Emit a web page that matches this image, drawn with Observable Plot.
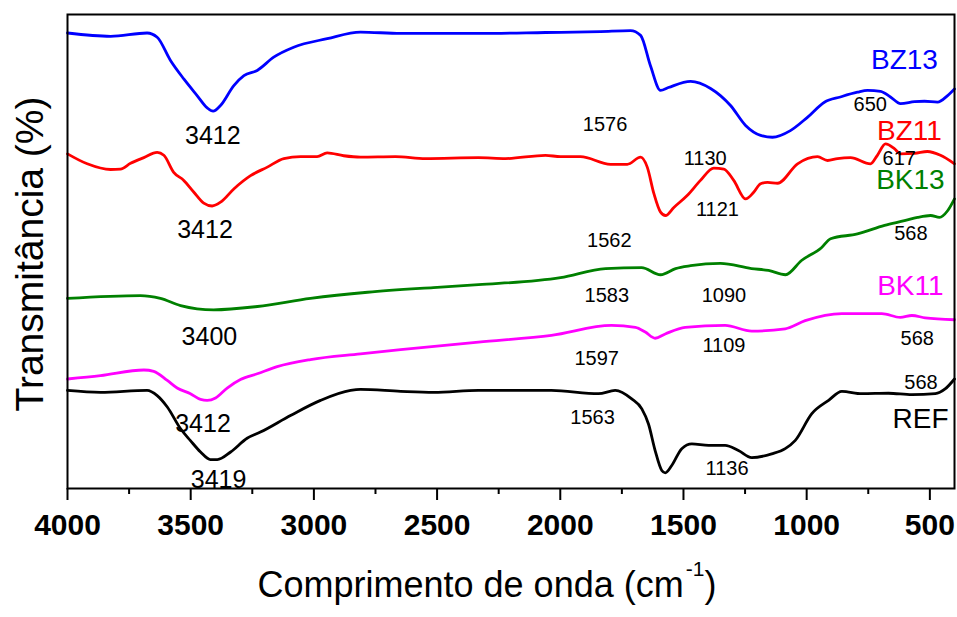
<!DOCTYPE html>
<html>
<head>
<meta charset="utf-8">
<script src="https://cdn.jsdelivr.net/npm/d3@7"></script>
<script src="https://cdn.jsdelivr.net/npm/@observablehq/plot@0.6"></script>
<style>
  html, body { margin: 0; padding: 0; background: #fff; }
  #chart svg { display: block; }
</style>
</head>
<body>
<div id="chart"></div>
<script>
// ---- axis ticks ----
const xTicks = [4000, 3500, 3000, 2500, 2000, 1500, 1000, 500];
const xMinorTicks = [3750, 3250, 2750, 2250, 1750, 1250, 750];
const xLabelMain = "Comprimento de onda (cm";
const xLabelSup = "-1";
const xLabelEnd = ")";
const yLabel = "Transmitância (%)";

// ---- series (wavenumber cm-1, transmittance in arbitrary offset units) ----
const bz13Wn = [4000,3825,3677,3636,3582,3528,3474,3433,3409,3379,3325,3284,3230,3163,3082,2946,2811,2648,2324,2060,1837,1715,1674,1634,1593,1561,1471,1390,1309,1248,1187,1139,1066,997,928,863,794,753,700,660,619,562,522,469,428,400];
const bz13T  = [96.1,95.4,96.1,95.2,90.3,86.4,82.9,80.3,79.6,80.8,85.0,87.1,88.2,91.0,93.1,94.9,96.3,96.0,96.0,96.2,96.4,96.6,95.6,89.2,84.0,84.6,85.9,84.4,80.8,76.6,74.5,74.1,75.5,78.3,81.5,82.6,83.6,84.0,83.8,82.6,81.2,81.6,81.7,81.5,82.9,84.3];

const bz11Wn = [4000,3920,3825,3785,3744,3690,3636,3609,3569,3528,3487,3447,3413,3379,3325,3257,3189,3122,3054,2987,2946,2879,2811,2669,2547,2332,2222,2060,1999,1918,1796,1728,1674,1647,1620,1593,1573,1539,1485,1431,1377,1336,1296,1248,1215,1187,1159,1118,1037,956,915,875,822,741,713,680,644,619,562,510,457,400];
const bz11T  = [70.6,68.5,67.3,67.4,68.6,69.8,70.9,70.3,66.7,65.0,62.5,60.2,59.6,60.4,63.2,66.0,67.8,69.6,70.0,70.0,70.8,70.2,69.9,70.0,69.6,69.8,69.6,70.3,70.0,70.0,68.4,68.4,69.9,67.8,62.2,58.3,57.6,59.3,61.8,65.0,67.6,67.4,65.0,61.1,62.5,64.3,64.6,64.4,68.5,70.0,69.2,69.6,69.8,68.5,70.3,72.7,71.7,70.6,70.7,71.1,70.3,68.5];

const bk13Wn = [4000,3704,3623,3541,3407,3229,3014,2782,2515,2332,1999,1816,1670,1593,1532,1471,1350,1224,1155,1086,1021,940,903,794,684,603,550,497,461,428,400];
const bk13T  = [40.1,40.7,40.1,38.6,37.7,38.4,40.1,41.4,42.4,43.0,44.5,46.4,46.6,45.1,46.4,47.0,47.5,46.4,46.0,45.1,48.1,50.8,52.7,53.7,55.5,56.5,57.2,57.6,57.2,58.6,61.1];

const bk11Wn = [4000,3866,3690,3650,3595,3555,3501,3460,3433,3399,3352,3298,3230,3149,3014,2811,2648,2332,2036,1792,1695,1655,1615,1574,1493,1331,1223,1087,1006,857,695,620,573,519,400];
const bk11T  = [23.1,23.8,25.0,24.7,22.8,21.2,20.0,18.8,18.6,19.1,21.2,23.0,24.2,25.7,27.2,28.4,29.3,30.9,32.3,34.4,34.0,33.0,31.7,32.6,34.0,34.4,33.2,33.7,35.4,36.9,36.9,36.1,36.5,36.0,35.6];

const refWn = [4000,3866,3677,3636,3595,3541,3501,3460,3420,3392,3338,3271,3217,3095,2973,2851,2811,2648,2513,2332,2036,1845,1777,1710,1669,1642,1615,1588,1574,1547,1507,1466,1398,1331,1277,1223,1142,1087,1047,979,911,857,776,668,573,478,438,400];
const refT  = [20.7,20.3,20.7,19.6,17.2,12.6,10.1,7.7,6.1,6.1,7.7,10.6,11.9,15.4,18.6,20.7,20.9,20.5,20.3,20.7,20.7,20.0,20.7,18.9,16.8,13.6,8.0,3.8,3.3,4.9,8.4,9.4,9.1,9.1,8.0,6.5,7.3,8.4,10.1,15.8,18.6,20.5,20.0,20.1,19.8,20.0,21.0,23.1];

const seriesNames  = ["BZ13", "BZ11", "BK13", "BK11", "REF"];
const seriesColors = ["#0000ff", "#ff0000", "#008000", "#ff00ff", "#000000"];
const seriesWn = [bz13Wn, bz11Wn, bk13Wn, bk11Wn, refWn];
const seriesT  = [bz13T, bz11T, bk13T, bk11T, refT];
const seriesLabelWn = [603, 583, 579, 579, 538];
const seriesLabelT  = [90.3, 75.5, 65.0, 42.7, 14.6];

// ---- peak annotations ----
const ohPeakText = ["3412", "3412", "3400", "3412", "3419"];
const ohPeakWn   = [3410, 3442, 3424, 3450, 3387];
const ohPeakT    = [74.4, 54.5, 32.0, 13.7, 1.7];

const peakText = ["1576","1130","1121","650","617","1562","568","1583","1090","1597","1109","568","568","1563","1136"];
const peakWn   = [1818, 1412, 1362, 742, 624, 1801, 577, 1811, 1336, 1852, 1336, 551, 536, 1869, 1323];
const peakT    = [76.7, 69.6, 58.8, 80.9, 69.7, 52.3, 53.8, 40.8, 40.8, 27.4, 30.1, 31.6, 22.4, 15.0, 4.2];

// ---- build tables ----
const lineData = seriesNames.flatMap((name, s) =>
  seriesWn[s].map((wn, i) => ({series: name, wn, t: seriesT[s][i]})));
const seriesLabels = seriesNames.map((name, s) => ({name, wn: seriesLabelWn[s], t: seriesLabelT[s]}));
const ohPeaks = ohPeakText.map((text, i) => ({text, wn: ohPeakWn[i], t: ohPeakT[i]}));
const peaks = peakText.map((text, i) => ({text, wn: peakWn[i], t: peakT[i]}));

const font = "'Liberation Sans', Arial, Helvetica, sans-serif";

const chart = Plot.plot({
  width: 957,
  height: 617,
  marginLeft: 67,
  marginRight: 3,
  marginTop: 14,
  marginBottom: 129,
  style: {fontFamily: font, background: "#fff", color: "#000"},
  x: {domain: [4000, 400]},
  y: {domain: [0, 100], axis: null},
  color: {domain: seriesNames, range: seriesColors},
  marks: [
    Plot.line(lineData, {x: "wn", y: "t", z: "series", stroke: "series", strokeWidth: 2.8, curve: "monotone-x"}),
    Plot.frame({stroke: "#000", strokeWidth: 2}),
    Plot.axisX({ticks: xTicks, tickSize: 12, tickPadding: 13, strokeWidth: 2, fontSize: 30, fontWeight: "bold",
                tickFormat: d => String(d), label: null}),
    Plot.axisX({ticks: xMinorTicks, tickSize: 6, strokeWidth: 2, tickFormat: () => "", label: null}),
    Plot.text(seriesLabels, {x: "wn", y: "t", text: "name", fill: "name", fontSize: 28}),
    Plot.text(ohPeaks, {x: "wn", y: "t", text: "text", fill: "#000", fontSize: 25}),
    Plot.text(peaks, {x: "wn", y: "t", text: "text", fill: "#000", fontSize: 20}),
    Plot.text([yLabel], {frameAnchor: "left", textAnchor: "middle", rotate: -90, dx: -37, dy: 2.5, fontSize: 39, fill: "#000"}),
    Plot.text([xLabelMain], {frameAnchor: "bottom", textAnchor: "start", dx: 257 - 510.5, dy: 108.5, fontSize: 36, fill: "#000"})
  ]
});

// add superscript to x label
chart.querySelectorAll("text").forEach(t => {
  if (t.textContent === xLabelMain) {
    const ns = "http://www.w3.org/2000/svg";
    const sup = document.createElementNS(ns, "tspan");
    sup.setAttribute("font-size", "21");
    sup.setAttribute("dy", "-21");
    sup.setAttribute("dx", "2");
    sup.textContent = xLabelSup;
    const end = document.createElementNS(ns, "tspan");
    end.setAttribute("dy", "21");
    end.textContent = xLabelEnd;
    t.appendChild(sup);
    t.appendChild(end);
  }
});

document.getElementById("chart").appendChild(chart);
</script>
</body>
</html>
